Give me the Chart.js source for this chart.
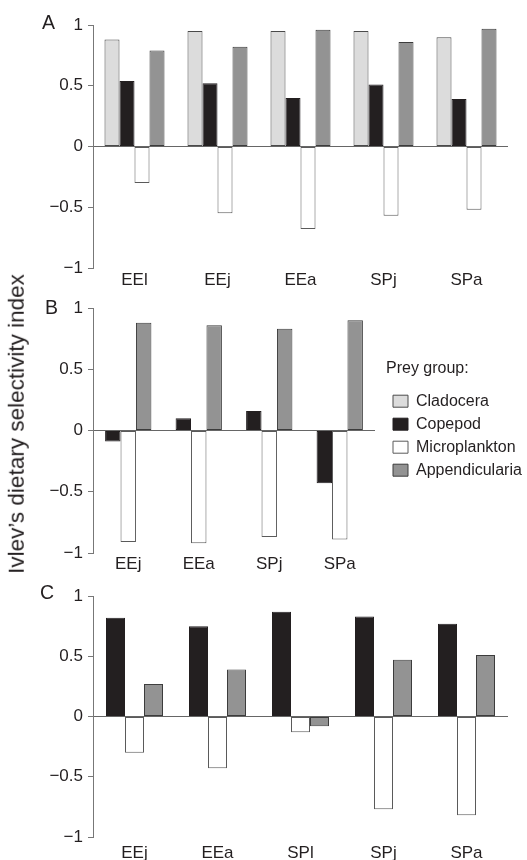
<!DOCTYPE html>
<html><head><meta charset="utf-8">
<script src="https://cdn.jsdelivr.net/npm/chart.js@4"></script>
<style>
html,body{margin:0;padding:0;background:#fff;}
#wrap{position:relative;width:527px;height:860px;overflow:hidden;font-family:"Liberation Sans",Arial,sans-serif;color:#231f20;}
canvas{position:absolute;left:0;display:block;}
.lbl{position:absolute;font-size:19.5px;line-height:1;}
#ytitle{position:absolute;left:17px;top:423.5px;font-size:22.5px;line-height:1;white-space:nowrap;transform:translate(-50%,-50%) rotate(-90deg);}
</style></head>
<body><div id="wrap">
<canvas id="cA" width="527" height="292" style="top:0px"></canvas>
<canvas id="cB" width="527" height="288" style="top:292px"></canvas>
<canvas id="cC" width="527" height="280" style="top:580px"></canvas>
<div class="lbl" style="left:42px;top:13px">A</div>
<div class="lbl" style="left:45px;top:298px">B</div>
<div class="lbl" style="left:40px;top:583px">C</div>
<div id="ytitle">Ivlev’s dietary selectivity index</div>
</div>
<script>
// ---- data ----
const seriesNames = ['Cladocera', 'Copepod', 'Microplankton', 'Appendicularia'];
const yTickValues = [-1, -0.5, 0, 0.5, 1];
const yTickLabels = ['−1', '−0.5', '0', '0.5', '1'];

const catsA = ['EEl', 'EEj', 'EEa', 'SPj', 'SPa'];
const cladoA = [0.88, 0.95, 0.95, 0.95, 0.90];
const copeA = [0.54, 0.52, 0.40, 0.51, 0.39];
const microA = [-0.30, -0.55, -0.68, -0.57, -0.52];
const appA = [0.79, 0.82, 0.96, 0.86, 0.97];

const catsB = ['EEj', 'EEa', 'SPj', 'SPa'];
const cladoB = [null, null, null, null];
const copeB = [-0.09, 0.10, 0.16, -0.43];
const microB = [-0.91, -0.92, -0.87, -0.89];
const appB = [0.88, 0.86, 0.83, 0.90];

const catsC = ['EEj', 'EEa', 'SPl', 'SPj', 'SPa'];
const copeC = [0.82, 0.75, 0.87, 0.83, 0.77];
const microC = [-0.30, -0.43, -0.13, -0.77, -0.82];
const appC = [0.27, 0.39, -0.08, 0.47, 0.51];

// ---- styles ----
Chart.defaults.font.family = '"Liberation Sans", Arial, sans-serif';
Chart.defaults.color = '#231f20';
const FILL = {Cladocera: '#dcdcdc', Copepod: '#231f20', Microplankton: '#ffffff', Appendicularia: '#939393'};
const EDGE = {Cladocera: '#4a4a4a', Copepod: '#231f20', Microplankton: '#5a5a5a', Appendicularia: '#3c3c3c'};
const TXT = '#231f20';

function ds(name, data) {
  return {label: name, data: data, backgroundColor: FILL[name], borderColor: EDGE[name],
          borderWidth: 1, borderSkipped: false, barPercentage: 1};
}

function makeChart(id, cats, datasets, o) {
  return new Chart(document.getElementById(id), {
    type: 'bar',
    data: {labels: cats, datasets: datasets},
    options: {
      responsive: false, animation: false, devicePixelRatio: 1,
      layout: {padding: {top: o.padTop, left: 0, right: o.padRight, bottom: 0}},
      datasets: {bar: {categoryPercentage: o.catPct, skipNull: true}},
      plugins: {legend: o.legend || {display: false}, tooltip: {enabled: false}},
      scales: {
        x: {
          grid: {display: false, drawTicks: false, tickLength: 0}, border: {display: false},
          ticks: {font: {size: 17}, color: TXT, padding: o.xPad, maxRotation: 0, autoSkip: false},
          afterFit(s) { s.height = o.xH; }
        },
        y: {
          min: -1, max: 1,
          ticks: {
            stepSize: 0.5, font: {size: 17}, color: TXT, padding: 5,
            callback(v) {
              const i = yTickValues.indexOf(Math.round(v * 100) / 100);
              return i >= 0 ? yTickLabels[i] : '';
            }
          },
          grid: {
            color(ctx) { return ctx.tick && ctx.tick.value === 0 ? '#666' : 'rgba(0,0,0,0)'; },
            tickColor: '#777', tickLength: 5, lineWidth: 1
          },
          border: {display: true, color: '#777', width: 1},
          afterFit(s) { s.width = 93; }
        }
      }
    },
    plugins: o.plugins || []
  });
}

const legendPlace = {
  id: 'legendPlace',
  beforeLayout(chart) {
    const lg = chart.legend;
    if (lg && !lg._fixed) {
      const f = lg.fit;
      lg.fit = function () { f.call(this); this.width = 152; };
      lg._fixed = true;
    }
  },
  afterLayout(chart) {
    const lg = chart.legend;
    if (lg) { lg.left = 386; lg.right = 386 + lg.width; }
  }
};

makeChart('cA', catsA, [
  ds(seriesNames[0], cladoA), ds(seriesNames[1], copeA), ds(seriesNames[2], microA), ds(seriesNames[3], appA)
], {padTop: 25, padRight: 19, catPct: 0.723, xPad: 2, xH: 24});

makeChart('cB', catsB, [
  ds(seriesNames[0], cladoB), ds(seriesNames[1], copeB), ds(seriesNames[2], microB), ds(seriesNames[3], appB)
], {
  padTop: 16, padRight: 0, catPct: 0.657, xPad: 1, xH: 27,
  legend: {
    display: true, position: 'right', align: 'start',
    title: {display: true, text: 'Prey group:', position: 'start', color: TXT, font: {size: 16}, padding: {top: 53, bottom: 6}},
    labels: {boxWidth: 15, boxHeight: 12, padding: 7, color: TXT, font: {size: 16}}
  },
  plugins: [legendPlace]
});

makeChart('cC', catsC, [
  ds(seriesNames[1], copeC), ds(seriesNames[2], microC), ds(seriesNames[3], appC)
], {padTop: 16, padRight: 19, catPct: 0.687, xPad: 6, xH: 23});
</script>
</body></html>
